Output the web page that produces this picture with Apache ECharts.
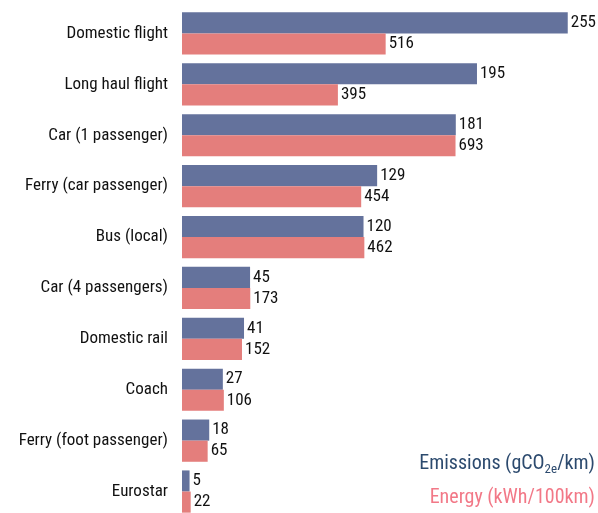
<!DOCTYPE html>
<html>
<head>
<meta charset="utf-8">
<script src="https://cdn.jsdelivr.net/npm/echarts@6/dist/echarts.min.js"></script>
<style>
  html, body { margin: 0; padding: 0; background: #fff; }
  #main { width: 598px; height: 513px; }
</style>
</head>
<body>
<div id="main"></div>
<script>
// categories top to bottom
const modes = [
  'Domestic flight', 'Long haul flight', 'Car (1 passenger)', 'Ferry (car passenger)',
  'Bus (local)', 'Car (4 passengers)', 'Domestic rail', 'Coach',
  'Ferry (foot passenger)', 'Eurostar'
];
const emissions = [255, 195, 181, 129, 120, 45, 41, 27, 18, 5];
const energy = [516, 395, 693, 454, 462, 173, 152, 106, 65, 22];

const font = '"Roboto Condensed", "DejaVu Sans Condensed", sans-serif';
const blue = '#64729c';
const pink = '#e47e7c';

const chart = echarts.init(document.getElementById('main'));

const valueLabel = {
  show: true,
  position: 'right',
  distance: 3,
  color: '#111',
  fontFamily: font,
  fontSize: 17
};

const option = {
  animation: false,
  grid: { left: 182, right: 0, top: 8, bottom: -4, outerBoundsMode: 'none' },
  xAxis: [
    { type: 'value', min: 0, max: 275, show: false },
    { type: 'value', min: 0, max: 1054, show: false }
  ],
  yAxis: {
    type: 'category',
    data: modes,
    inverse: true,
    axisLine: { show: false },
    axisTick: { show: false },
    axisLabel: { color: '#111', fontFamily: font, fontSize: 17, margin: 14 }
  },
  legend: {
    orient: 'vertical',
    right: -2,
    bottom: 5,
    padding: 0,
    align: 'right',
    itemGap: 12,
    selectedMode: false,
    data: [
      { name: 'Emissions', icon: 'none', textStyle: { color: '#2c4a6e' } },
      { name: 'Energy', icon: 'none', textStyle: { color: '#f27887' } }
    ],
    itemWidth: 0,
    formatter: name => name === 'Emissions'
      ? 'Emissions (gCO{sub|2e}/km)'
      : 'Energy (kWh/100km)',
    textStyle: {
      fontFamily: font,
      fontSize: 20,
      rich: {
        sub: { fontFamily: font, fontSize: 13, color: '#2c4a6e', padding: [12, 0, 0, 0] }
      }
    }
  },
  series: [
    {
      name: 'Emissions',
      type: 'bar',
      xAxisIndex: 0,
      data: emissions,
      barGap: '0%',
      barCategoryGap: '17%',
      itemStyle: { color: blue },
      label: valueLabel
    },
    {
      name: 'Energy',
      type: 'bar',
      xAxisIndex: 1,
      data: energy,
      itemStyle: { color: pink },
      label: valueLabel
    }
  ]
};

chart.setOption(option);
</script>
</body>
</html>
